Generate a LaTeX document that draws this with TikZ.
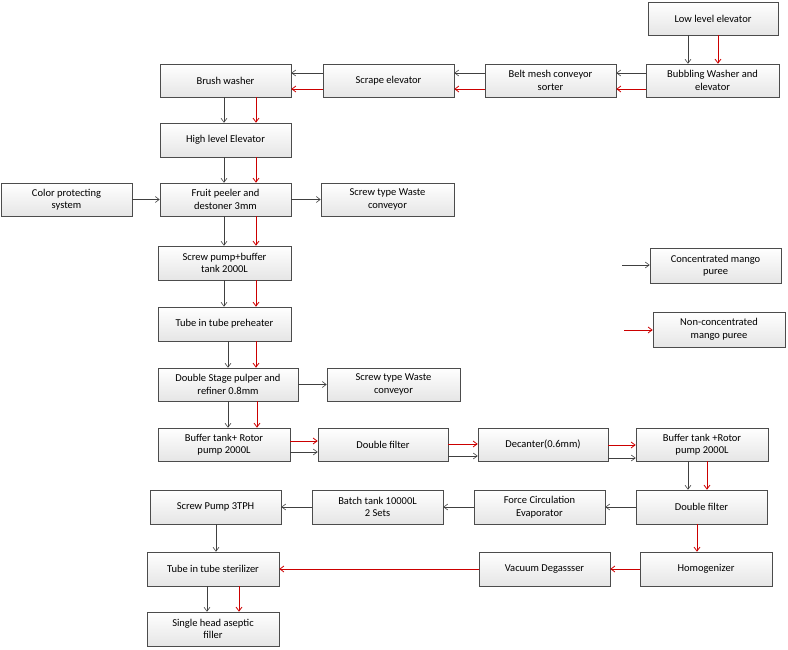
\documentclass[tikz,border=0pt]{standalone}
\usepackage{fontspec}
\setmainfont{Carlito}
\usetikzlibrary{arrows.meta,shadows}
\begin{document}
\begin{tikzpicture}[x=1pt,y=-1pt,
 box/.style={draw=black!70,line width=0.6pt,top color=white,bottom color=black!10,
   drop shadow={shadow xshift=1.2pt,shadow yshift=-1.2pt,opacity=0.35},
   align=center,inner sep=1pt,font=\fontsize{10.5}{12.5}\selectfont},
 blk/.style={draw=black!75,line width=0.6pt,-{Straight Barb[length=4pt,width=6pt]}},
 red/.style={draw=red!80!black,line width=0.8pt,-{Straight Barb[length=4pt,width=6pt]}}]
\useasboundingbox (0,0) rectangle (788,650);
\newcommand{\bx}[6]{\node[box,minimum width=#4-#2,minimum height=#5-#3] (#1) at ({(#2+#4)/2},{(#3+#5)/2}) {#6};}
\bx{low}{648}{2}{778}{35}{Low level elevator}
\bx{bub}{646}{64}{779}{97}{Bubbling Washer and\\elevator}
\bx{belt}{485}{64}{616}{97}{Belt mesh conveyor\\sorter}
\bx{scr}{323}{64}{454}{97}{Scrape elevator}
\bx{brush}{160}{64}{291}{97}{Brush washer}
\bx{high}{160}{123}{291}{157}{High level Elevator}
\bx{color}{1}{183}{132}{216}{Color protecting\\system}
\bx{peel}{160}{183}{291}{216}{Fruit peeler and\\destoner 3mm}
\bx{w1}{321}{183}{454}{216}{Screw type Waste\\conveyor}
\bx{sp}{158}{246}{291}{280}{Screw pump+buffer\\tank 2000L}
\bx{conc}{650}{248}{781}{283}{Concentrated mango\\puree}
\bx{pre}{158}{307}{291}{341}{Tube in tube preheater}
\bx{nonc}{653}{312}{785}{347}{Non-concentrated\\mango puree}
\bx{pulp}{158}{368}{298}{401}{Double Stage pulper and\\refiner 0.8mm}
\bx{w2}{327}{368}{460}{401}{Screw type Waste\\conveyor}
\bx{buf1}{158}{428}{290}{461}{Buffer tank+ Rotor\\pump 2000L}
\bx{df1}{318}{428}{448}{461}{Double filter}
\bx{dec}{478}{428}{608}{461}{Decanter(0.6mm)}
\bx{buf2}{636}{428}{768}{461}{Buffer tank +Rotor\\pump 2000L}
\bx{df2}{636}{490}{767}{524}{Double filter}
\bx{fce}{474}{490}{605}{524}{Force Circulation\\Evaporator}
\bx{bt}{312}{490}{443}{524}{Batch tank 10000L\\2 Sets}
\bx{spt}{150}{490}{281}{524}{Screw Pump 3TPH}
\bx{ster}{147}{552}{279}{586}{Tube in tube sterilizer}
\bx{vac}{479}{552}{610}{586}{Vacuum Degassser}
\bx{hom}{640}{552}{772}{586}{Homogenizer}
\bx{fill}{147}{612}{279}{646}{Single head aseptic\\filler}
% vertical pairs
\newcommand{\vp}[4]{\draw[blk] (#1.south -| #3,0) -- (#2.north -| #3,0); \draw[red] (#1.south -| #4,0) -- (#2.north -| #4,0);}
\vp{low}{bub}{688}{718}
\vp{brush}{high}{224}{256}
\vp{high}{peel}{224}{256}
\vp{peel}{sp}{224}{256}
\vp{sp}{pre}{224}{256}
\vp{pre}{pulp}{228}{256}
\vp{pulp}{buf1}{228}{257}
\vp{buf2}{df2}{688}{707}
\vp{ster}{fill}{207}{239}
% horizontal leftward pairs
\newcommand{\hl}[2]{\draw[blk] (#1.west |- 0,73) -- (#2.east |- 0,73); \draw[red] (#1.west |- 0,89) -- (#2.east |- 0,89);}
\hl{bub}{belt}
\hl{belt}{scr}
\hl{scr}{brush}
% rightward pairs
\newcommand{\hr}[4]{\draw[red] (#1.east |- 0,#3) -- (#2.west |- 0,#3); \draw[blk] (#1.east |- 0,#4) -- (#2.west |- 0,#4);}
\hr{buf1}{df1}{441}{452}
\hr{df1}{dec}{444}{456}
\hr{dec}{buf2}{445}{458}
% singles
\draw[blk] (color) -- (peel);
\draw[blk] (peel) -- (w1);
\draw[blk] (pulp) -- (w2);
\draw[blk] (df2) -- (fce);
\draw[blk] (fce) -- (bt);
\draw[blk] (bt) -- (spt);
\draw[blk] (spt.south -| 216,0) -- (ster.north -| 216,0);
\draw[red] (df2.south -| 697,0) -- (hom.north -| 697,0);
\draw[red] (hom) -- (vac);
\draw[red] (vac) -- (ster);
% legend
\coordinate (lc) at (622,265);
\coordinate (ln) at (624,330);
\draw[blk] (lc) -- (conc.west |- lc);
\draw[red] (ln) -- (nonc.west |- ln);
\end{tikzpicture}
\end{document}
